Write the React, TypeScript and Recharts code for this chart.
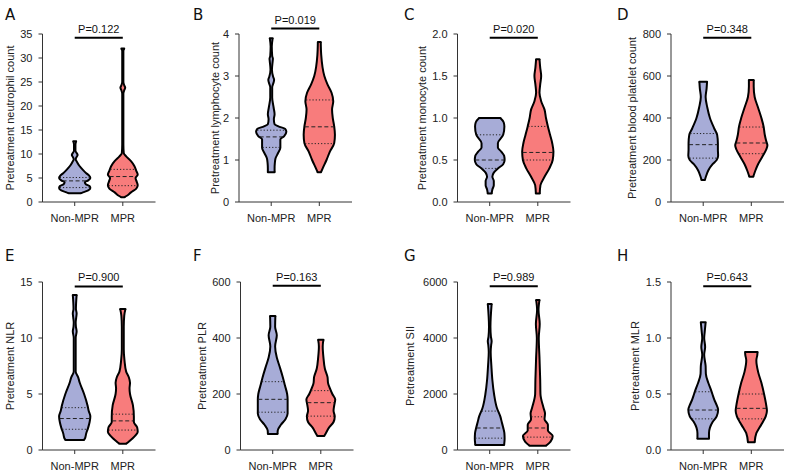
import { ComposedChart, Area, XAxis, YAxis, ReferenceLine } from 'recharts';

type Pair = [number, number];

const GROUPS = ['Non-MPR', 'MPR'];
const GROUP_X = [1, 2];
const COLORS = { nonMpr: '#a7acd7', mpr: '#f87c7c' };

// violin outlines: [value, half width in x-axis units]
const neutroNonMpr: Pair[] = [[1.8, 0.12], [2.0, 0.17], [2.4, 0.28], [2.9, 0.325], [3.3, 0.31], [3.7, 0.23], [4.1, 0.21], [4.5, 0.28], [5.0, 0.325], [5.5, 0.3], [6.0, 0.24], [6.7, 0.17], [7.5, 0.1], [8.3, 0.05], [8.9, 0.02], [9.4, 0.04], [9.8, 0.06], [10.2, 0.04], [10.7, 0.015], [12.0, 0.015], [12.65, 0.03]];
const neutroMpr: Pair[] = [[1.0, 0.035], [1.3, 0.085], [2.0, 0.17], [2.8, 0.28], [3.5, 0.31], [4.2, 0.29], [5.0, 0.265], [5.7, 0.31], [6.5, 0.28], [7.5, 0.24], [8.5, 0.17], [9.5, 0.07], [10.2, 0.02], [12, 0.012], [22.5, 0.012], [23.3, 0.03], [23.8, 0.05], [24.3, 0.03], [25, 0.012], [31.5, 0.012], [32, 0.03]];
const lymphoNonMpr: Pair[] = [[0.71, 0.07], [0.8, 0.07], [0.92, 0.075], [1.04, 0.09], [1.16, 0.14], [1.29, 0.19], [1.41, 0.19], [1.49, 0.19], [1.57, 0.27], [1.67, 0.315], [1.74, 0.29], [1.8, 0.15], [1.85, 0.07], [1.97, 0.055], [2.09, 0.07], [2.25, 0.05], [2.49, 0.02], [2.73, 0.02], [2.85, 0.05], [2.91, 0.06], [2.98, 0.04], [3.15, 0.015], [3.35, 0.03], [3.41, 0.035], [3.48, 0.02], [3.7, 0.012], [3.9, 0.03]];
const lymphoMpr: Pair[] = [[0.71, 0.035], [0.8, 0.07], [1.0, 0.15], [1.2, 0.22], [1.4, 0.31], [1.6, 0.325], [1.8, 0.31], [2.0, 0.28], [2.2, 0.265], [2.4, 0.29], [2.6, 0.255], [2.8, 0.17], [3.0, 0.105], [3.5, 0.04], [3.81, 0.03]];
const monoNonMpr: Pair[] = [[0.1, 0.04], [0.15, 0.055], [0.2, 0.085], [0.25, 0.085], [0.3, 0.055], [0.35, 0.085], [0.4, 0.17], [0.45, 0.28], [0.5, 0.31], [0.55, 0.3], [0.6, 0.24], [0.65, 0.17], [0.7, 0.17], [0.8, 0.28], [0.9, 0.305], [0.95, 0.29], [1.0, 0.22]];
const monoMpr: Pair[] = [[0.1, 0.04], [0.2, 0.055], [0.3, 0.14], [0.4, 0.24], [0.5, 0.31], [0.6, 0.325], [0.7, 0.3], [0.8, 0.255], [0.9, 0.21], [1.0, 0.17], [1.1, 0.14], [1.2, 0.07], [1.3, 0.035], [1.4, 0.05], [1.5, 0.07], [1.6, 0.05], [1.7, 0.035]];
const plateletNonMpr: Pair[] = [[105, 0.035], [120, 0.055], [150, 0.105], [180, 0.195], [200, 0.28], [220, 0.31], [250, 0.305], [280, 0.305], [320, 0.29], [350, 0.23], [400, 0.14], [450, 0.085], [500, 0.05], [540, 0.07], [573, 0.08]];
const plateletMpr: Pair[] = [[120, 0.04], [150, 0.085], [180, 0.14], [220, 0.24], [250, 0.31], [270, 0.335], [290, 0.31], [320, 0.28], [360, 0.255], [400, 0.21], [450, 0.14], [500, 0.07], [550, 0.05], [581, 0.05]];
const nlrNonMpr: Pair[] = [[0.9, 0.19], [1.0, 0.21], [1.5, 0.24], [2.0, 0.28], [2.5, 0.31], [3.0, 0.325], [3.5, 0.29], [4.0, 0.265], [5.0, 0.195], [6.0, 0.105], [6.5, 0.07], [7.0, 0.02], [10.0, 0.02], [10.6, 0.04], [11.0, 0.025], [11.4, 0.02], [11.8, 0.03], [12.2, 0.04], [12.6, 0.025], [13.85, 0.04]];
const nlrMpr: Pair[] = [[0.55, 0.07], [0.8, 0.14], [1.2, 0.24], [1.6, 0.31], [2.0, 0.3], [2.5, 0.23], [3.0, 0.23], [4.0, 0.21], [5.0, 0.15], [5.5, 0.14], [6.0, 0.15], [6.5, 0.125], [7.0, 0.07], [8.0, 0.035], [9.0, 0.02], [11.0, 0.02], [12.0, 0.03], [12.6, 0.055]];
const plrNonMpr: Pair[] = [[57, 0.1], [70, 0.105], [90, 0.17], [110, 0.265], [130, 0.31], [160, 0.31], [180, 0.31], [200, 0.3], [230, 0.255], [260, 0.21], [300, 0.14], [330, 0.085], [370, 0.05], [410, 0.085], [440, 0.05], [479, 0.055]];
const plrMpr: Pair[] = [[50, 0.07], [60, 0.105], [80, 0.17], [100, 0.265], [120, 0.29], [140, 0.265], [160, 0.28], [180, 0.3], [200, 0.24], [220, 0.19], [240, 0.15], [260, 0.14], [290, 0.085], [330, 0.055], [370, 0.04], [394, 0.055]];
const siiNonMpr: Pair[] = [[181, 0.3], [400, 0.31], [600, 0.305], [800, 0.28], [1000, 0.25], [1200, 0.22], [1500, 0.15], [2000, 0.09], [2500, 0.055], [3000, 0.035], [3500, 0.02], [3750, 0.03], [3883, 0.04], [4050, 0.025], [4400, 0.015], [5214, 0.04]];
const siiMpr: Pair[] = [[150, 0.17], [300, 0.265], [500, 0.31], [700, 0.21], [900, 0.21], [1100, 0.14], [1300, 0.15], [1500, 0.12], [2000, 0.055], [2500, 0.05], [3300, 0.035], [4000, 0.02], [4500, 0.04], [5000, 0.015], [5359, 0.035]];
const mlrNonMpr: Pair[] = [[0.1, 0.12], [0.15, 0.12], [0.2, 0.14], [0.25, 0.195], [0.3, 0.28], [0.36, 0.31], [0.4, 0.28], [0.45, 0.23], [0.5, 0.19], [0.55, 0.15], [0.6, 0.105], [0.68, 0.055], [0.75, 0.05], [0.85, 0.02], [0.92, 0.04], [1.0, 0.02], [1.05, 0.03], [1.14, 0.05]];
const mlrMpr: Pair[] = [[0.07, 0.07], [0.15, 0.105], [0.2, 0.17], [0.25, 0.24], [0.3, 0.3], [0.35, 0.325], [0.4, 0.31], [0.5, 0.265], [0.6, 0.21], [0.7, 0.14], [0.8, 0.105], [0.85, 0.125], [0.874, 0.13]];

// quartiles [q1, median, q3]
const neutroQuart = [[3.0, 4.4, 5.1], [3.4, 5.3, 6.8]];
const lymphoQuart = [[1.3, 1.55, 1.71], [1.39, 1.79, 2.43]];
const monoQuart = [[0.4, 0.5, 0.8], [0.5, 0.59, 0.9]];
const plateletQuart = [[209, 273, 326], [230, 281, 357]];
const nlrQuart = [[1.85, 2.81, 3.78], [1.78, 2.6, 3.2]];
const plrQuart = [[135, 181, 244], [121, 169, 212]];
const siiQuart = [[423, 786, 1390], [460, 786, 1185]];
const mlrQuart = [[0.278, 0.357, 0.52], [0.278, 0.372, 0.5]];

const LETTERS = ['A', 'B', 'C', 'D', 'E', 'F', 'G', 'H'];
const TITLES = ['Pretreatment neutrophil count', 'Pretreatment lymphocyte count', 'Pretreatment monocyte count', 'Pretreatment blood platelet count', 'Pretreatment NLR', 'Pretreatment PLR', 'Pretreatment SII', 'Pretreatment MLR'];
const P_VALUES = ['P=0.122', 'P=0.019', 'P=0.020', 'P=0.348', 'P=0.900', 'P=0.163', 'P=0.989', 'P=0.643'];
const P_BAR_Y = [34.2, 4.13, 1.955, 782, 14.6, 587, 5844, 1.461];
const Y_TICKS = [[0, 5, 10, 15, 20, 25, 30, 35], [0, 1, 2, 3, 4], [0, 0.5, 1, 1.5, 2], [0, 200, 400, 600, 800], [0, 5, 10, 15], [0, 200, 400, 600], [0, 2000, 4000, 6000], [0, 0.5, 1, 1.5]];
const Y_DECIMALS = [0, 0, 1, 0, 0, 0, 0, 1];
const OUTLINES = [[neutroNonMpr, neutroMpr], [lymphoNonMpr, lymphoMpr], [monoNonMpr, monoMpr], [plateletNonMpr, plateletMpr], [nlrNonMpr, nlrMpr], [plrNonMpr, plrMpr], [siiNonMpr, siiMpr], [mlrNonMpr, mlrMpr]];
const QUARTILES = [neutroQuart, lymphoQuart, monoQuart, plateletQuart, nlrQuart, plrQuart, siiQuart, mlrQuart];

// layout (px)
const AXIS_X = [42, 239, 457, 671, 42, 240, 457.5, 671];
const TITLE_X = [9.5, 215, 421.5, 632, 9.5, 201.5, 410, 635];
const LETTER_X = [5, 193, 404, 617, 5, 193, 404, 617];
const ROW_TOP = [0, 236];
const PLOT_TOP = [34, 46];
const PLOT_H = 166;
const PLOT_W = 113;
const FONT = "'Liberation Sans', Arial, Helvetica, sans-serif";

const widthAt = (outline: Pair[], v: number) => {
  for (let i = 1; i < outline.length; i++) {
    const [y0, w0] = outline[i - 1];
    const [y1, w1] = outline[i];
    if (v >= y0 && v <= y1) return w0 + ((w1 - w0) * (v - y0)) / (y1 - y0);
  }
  return 0;
};

const Panel = ({ idx }: { idx: number }) => {
  const row = idx < 4 ? 0 : 1;
  const chartLeft = TITLE_X[idx] - 10;
  const yWidth = AXIS_X[idx] - chartLeft;
  const [nm, mpr] = OUTLINES[idx];
  const ticks = Y_TICKS[idx];
  const yMax = ticks[ticks.length - 1];

  const data = [
    ...nm.map(([y, w]) => ({ y, nm: [GROUP_X[0] - w, GROUP_X[0] + w], mpr: [null, null] })),
    ...mpr.map(([y, w]) => ({ y, nm: [null, null], mpr: [GROUP_X[1] - w, GROUP_X[1] + w] })),
  ];

  const segs: any[] = [];
  [nm, mpr].forEach((outline, g) => {
    const c = GROUP_X[g];
    // caps at min and max
    [outline[0], outline[outline.length - 1]].forEach(([y, w], k) => {
      segs.push(
        <ReferenceLine
          key={`cap-${g}-${k}`}
          segment={[{ x: c - w, y }, { x: c + w, y }]}
          stroke="#000"
          strokeWidth={2}
          strokeLinecap="round"
        />
      );
    });
    QUARTILES[idx][g].forEach((q, k) => {
      const w = widthAt(outline, q) - 0.01;
      segs.push(
        <ReferenceLine
          key={`q-${g}-${k}`}
          segment={[{ x: c - w, y: q }, { x: c + w, y: q }]}
          stroke="#222"
          strokeWidth={1}
          strokeDasharray={k === 1 ? '4 2.5' : '1.2 2'}
        />
      );
    });
  });

  const marginTop = PLOT_TOP[row];
  const width = yWidth + PLOT_W + 6;
  const height = marginTop + PLOT_H + 32;

  return (
    <div style={{ position: 'absolute', left: chartLeft, top: ROW_TOP[row] }}>
      <ComposedChart
        width={width}
        height={height}
        data={data}
        layout="vertical"
        margin={{ top: marginTop, right: 6, bottom: 0, left: 0 }}
      >
        <XAxis
          type="number"
          domain={[0.33, 2.68]}
          allowDataOverflow
          ticks={GROUP_X}
          interval={0}
          tickFormatter={(v: number) => GROUPS[GROUP_X.indexOf(v)] ?? ''}
          height={30}
          tickSize={4}
          tickMargin={8}
          axisLine={{ stroke: '#333' }}
          tickLine={{ stroke: '#333' }}
          tick={{ fontSize: 11, fill: '#222', fontFamily: FONT }}
        />
        <YAxis
          type="number"
          dataKey="y"
          reversed
          domain={[0, yMax]}
          allowDataOverflow
          ticks={ticks}
          interval={0}
          width={yWidth}
          tickSize={4}
          tickMargin={6}
          tickFormatter={(v: number) => v.toFixed(Y_DECIMALS[idx])}
          axisLine={{ stroke: '#333' }}
          tickLine={{ stroke: '#333' }}
          tick={{ fontSize: 11, fill: '#222', fontFamily: FONT }}
          label={{
            value: TITLES[idx],
            angle: -90,
            position: 'insideLeft',
            offset: 10,
            style: { textAnchor: 'middle', fontSize: 11, fill: '#222', fontFamily: FONT },
          }}
        />
        <Area
          dataKey="nm"
          type="monotone"
          connectNulls
          fill={COLORS.nonMpr}
          fillOpacity={1}
          stroke="#000"
          strokeWidth={2}
          dot={false}
          activeDot={false}
          isAnimationActive={false}
        />
        <Area
          dataKey="mpr"
          type="monotone"
          connectNulls
          fill={COLORS.mpr}
          fillOpacity={1}
          stroke="#000"
          strokeWidth={2}
          dot={false}
          activeDot={false}
          isAnimationActive={false}
        />
        {segs}
        <ReferenceLine
          segment={[{ x: GROUP_X[0], y: P_BAR_Y[idx] }, { x: GROUP_X[1], y: P_BAR_Y[idx] }]}
          stroke="#000"
          strokeWidth={2}
          ifOverflow="visible"
          label={{ value: P_VALUES[idx], position: 'top', offset: 5, fontSize: 11, fill: '#111', fontFamily: FONT }}
        />
      </ComposedChart>
    </div>
  );
};

const App = () => {
  return (
    <div style={{ position: 'absolute', left: 0, top: 0, width: 788, height: 472, background: '#fff', fontFamily: FONT }}>
      {LETTERS.map((l, i) => (
        <div
          key={l}
          style={{
            position: 'absolute',
            left: LETTER_X[i],
            top: i < 4 ? 8 : 249,
            fontSize: 15,
            lineHeight: 1,
            fontFamily: "'DejaVu Sans', sans-serif",
            color: '#111',
          }}
        >
          {l}
        </div>
      ))}
      {LETTERS.map((l, i) => (
        <Panel key={`p-${l}`} idx={i} />
      ))}
    </div>
  );
};

export default App;
